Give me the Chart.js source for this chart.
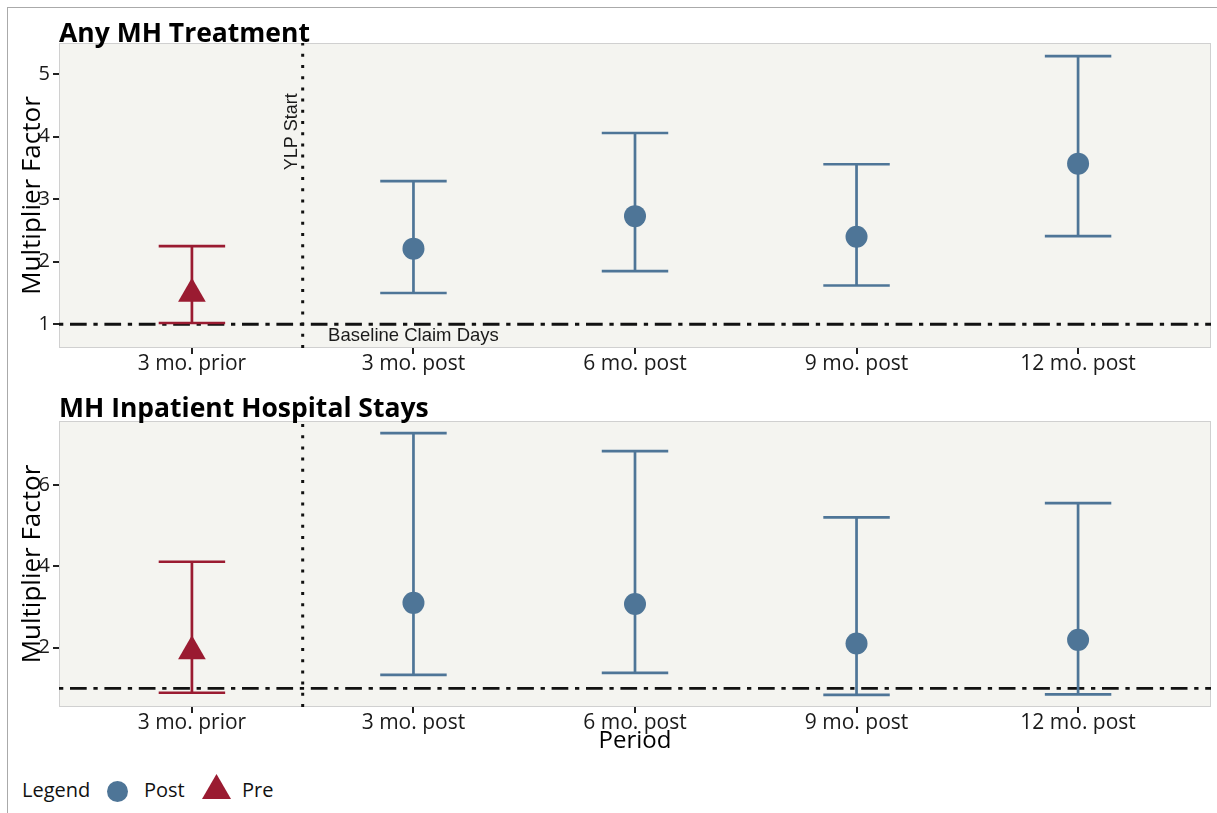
<!DOCTYPE html>
<html>
<head>
<meta charset="utf-8">
<script src="https://cdn.jsdelivr.net/npm/chart.js@4.4.0/dist/chart.umd.min.js"></script>
<style>
html,body{margin:0;padding:0;background:#fff;width:1217px;height:813px;overflow:hidden;font-family:"Open Sans",sans-serif;}
#frame{position:absolute;left:7px;top:7px;width:1230px;height:830px;border-left:1.5px solid #aaa;border-top:1.5px solid #aaa;}
.title{position:absolute;left:59px;font-weight:700;font-size:26.5px;line-height:27px;color:#000;white-space:nowrap;}
canvas{position:absolute;left:0;}
.lg{position:absolute;font-size:20px;line-height:20px;color:#111;white-space:nowrap;}
</style>
</head>
<body>
<div id="frame"></div>
<canvas id="c1" width="1217" height="380" style="top:0;width:1217px;height:380px;"></canvas>
<canvas id="c2" width="1217" height="390" style="top:380px;width:1217px;height:390px;"></canvas>
<div class="title" style="top:19px;">Any MH Treatment</div>
<div class="title" style="top:394px;">MH Inpatient Hospital Stays</div>
<div class="lg" style="left:22px;top:780px;">Legend</div>
<div style="position:absolute;left:107px;top:781px;width:21px;height:21px;border-radius:50%;background:#4E7597;"></div>
<div class="lg" style="left:144px;top:780px;">Post</div>
<div style="position:absolute;left:202px;top:774px;width:29px;height:25px;background:#9A1B31;clip-path:polygon(50% 0,100% 100%,0 100%);"></div>
<div class="lg" style="left:242px;top:780px;">Pre</div>
<script>
// ---- data ----
const categories = ['3 mo. prior', '3 mo. post', '6 mo. post', '9 mo. post', '12 mo. post'];
const groups = ['Pre', 'Post', 'Post', 'Post', 'Post'];

// Any MH Treatment
const anyEst  = [1.49, 2.21, 2.73, 2.40, 3.57];
const anyLow  = [1.02, 1.50, 1.85, 1.62, 2.41];
const anyHigh = [2.25, 3.29, 4.06, 3.56, 5.29];
const anyTicks = [1, 2, 3, 4, 5];

// MH Inpatient Hospital Stays
const inpEst  = [1.91, 3.10, 3.07, 2.10, 2.19];
const inpLow  = [0.89, 1.33, 1.38, 0.84, 0.85];
const inpHigh = [4.11, 7.27, 6.83, 5.20, 5.55];
const inpTicks = [2, 4, 6];

const baselineValue = 1;
const dividerX = 1.5;

const postColor = '#4E7597';
const preColor = '#9A1B31';

const panelPlugin = {
  id: 'panel',
  beforeDraw(chart, args, o) {
    const {ctx, chartArea: a} = chart;
    ctx.save();
    ctx.fillStyle = '#F4F4F0';
    ctx.fillRect(a.left, a.top, a.right - a.left, a.bottom - a.top);
    ctx.strokeStyle = '#D0D0D0';
    ctx.lineWidth = 1;
    ctx.strokeRect(a.left + 0.5, a.top + 0.5, a.right - a.left - 1, a.bottom - a.top - 1);
    ctx.restore();
  },
  beforeDatasetsDraw(chart, args, o) {
    const {ctx, chartArea: a, scales: {x, y}} = chart;
    ctx.save();
    ctx.beginPath();
    ctx.rect(a.left, a.top, a.right - a.left, a.bottom - a.top);
    ctx.clip();
    // vertical dotted divider
    const xv = x.getPixelForValue(dividerX);
    ctx.strokeStyle = '#111';
    ctx.lineWidth = 3;
    ctx.setLineDash([3, 8.2]);
    ctx.beginPath();
    ctx.moveTo(xv, a.bottom);
    ctx.lineTo(xv, a.top);
    ctx.stroke();
    // baseline dot-dash
    const yb = y.getPixelForValue(baselineValue);
    ctx.lineWidth = 2.8;
    ctx.setLineDash([4.3, 6.7, 16.7, 6.7]);
    ctx.beginPath();
    ctx.moveTo(a.left, yb);
    ctx.lineTo(a.right, yb);
    ctx.stroke();
    ctx.setLineDash([]);
    // annotations
    if (o.annotate) {
      ctx.fillStyle = '#1a1a1a';
      ctx.font = '18.5px "Liberation Sans", Arial, sans-serif';
      ctx.textAlign = 'center';
      ctx.textBaseline = 'middle';
      ctx.fillText('Baseline Claim Days', x.getPixelForValue(2), y.getPixelForValue(0.82));
      ctx.save();
      ctx.translate(x.getPixelForValue(1.452), y.getPixelForValue(4.08));
      ctx.rotate(-Math.PI / 2);
      ctx.font = '18px "Liberation Sans", Arial, sans-serif';
      ctx.fillText('YLP Start', 0, 0);
      ctx.restore();
    }
    // error bars
    ctx.lineWidth = 2.7;
    ctx.lineCap = 'butt';
    o.low.forEach((lo, i) => {
      const hi = o.high[i];
      const cx = x.getPixelForValue(i + 1);
      const xl = x.getPixelForValue(i + 1 - 0.15);
      const xr = x.getPixelForValue(i + 1 + 0.15);
      const yl = y.getPixelForValue(lo);
      const yh = y.getPixelForValue(hi);
      ctx.strokeStyle = groups[i] === 'Pre' ? preColor : postColor;
      ctx.beginPath();
      ctx.moveTo(cx, yl); ctx.lineTo(cx, yh);
      ctx.moveTo(xl, yl); ctx.lineTo(xr, yl);
      ctx.moveTo(xl, yh); ctx.lineTo(xr, yh);
      ctx.stroke();
    });
    ctx.restore();
  }
};

function makeChart(id, est, low, high, yMin, yMax, yTicks, padTop, xHeight, showXTitle, annotate) {
  const postData = [], preData = [];
  categories.forEach((c, i) => {
    const p = {x: i + 1, y: est[i]};
    if (groups[i] === 'Post') postData.push(p); else preData.push(p);
  });
  const tickGrid = {display: true, drawOnChartArea: false, drawTicks: true, tickLength: 6, color: '#222', lineWidth: 2};
  return new Chart(document.getElementById(id), {
    type: 'scatter',
    data: {
      datasets: [
        {label: 'Post', data: postData, pointStyle: 'circle', pointRadius: 11, pointHoverRadius: 11,
         backgroundColor: postColor, borderColor: postColor, borderWidth: 0, pointBorderWidth: 0},
        {label: 'Pre', data: preData, pointStyle: 'triangle', pointRadius: 16, pointHoverRadius: 16,
         backgroundColor: preColor, borderColor: preColor, borderWidth: 0, pointBorderWidth: 0}
      ]
    },
    plugins: [panelPlugin],
    options: {
      responsive: false,
      animation: false,
      events: [],
      layout: {autoPadding: false, padding: {top: padTop, right: 6, left: 0, bottom: 0}},
      plugins: {
        legend: {display: false},
        tooltip: {enabled: false},
        panel: {low: low, high: high, annotate: annotate}
      },
      scales: {
        x: {
          type: 'linear', min: 0.4, max: 5.6,
          afterBuildTicks: s => { s.ticks = categories.map((c, i) => ({value: i + 1})); },
          afterFit: s => { s.height = xHeight; s.paddingLeft = 0; s.paddingRight = 0; },
          grid: tickGrid,
          border: {display: false},
          ticks: {
            callback: v => categories[v - 1],
            font: {family: 'Open Sans', size: 21, lineHeight: 1},
            color: '#1a1a1a', padding: 0, maxRotation: 0, autoSkip: false
          },
          title: {
            display: showXTitle, text: 'Period',
            font: {family: 'Open Sans', size: 24, lineHeight: 1},
            color: '#000', padding: {top: 0, bottom: 17}
          }
        },
        y: {
          type: 'linear', min: yMin, max: yMax,
          afterBuildTicks: s => { s.ticks = yTicks.map(v => ({value: v})); },
          afterFit: s => { s.width = 59; s.paddingTop = 0; s.paddingBottom = 0; },
          grid: tickGrid,
          border: {display: false},
          ticks: {
            font: {family: 'Open Sans', size: 20, lineHeight: 1},
            color: '#1a1a1a', padding: 3
          },
          title: {
            display: true, text: 'Multiplier Factor',
            font: {family: 'Open Sans', size: 26, lineHeight: 1},
            color: '#000', padding: {top: 20, bottom: 0}
          }
        }
      }
    }
  });
}

makeChart('c1', anyEst, anyLow, anyHigh, 0.62, 5.5, anyTicks, 43, 32, false, true);
makeChart('c2', inpEst, inpLow, inpHigh, 0.54, 7.57, inpTicks, 41, 63, true, false);
</script>
</body>
</html>
